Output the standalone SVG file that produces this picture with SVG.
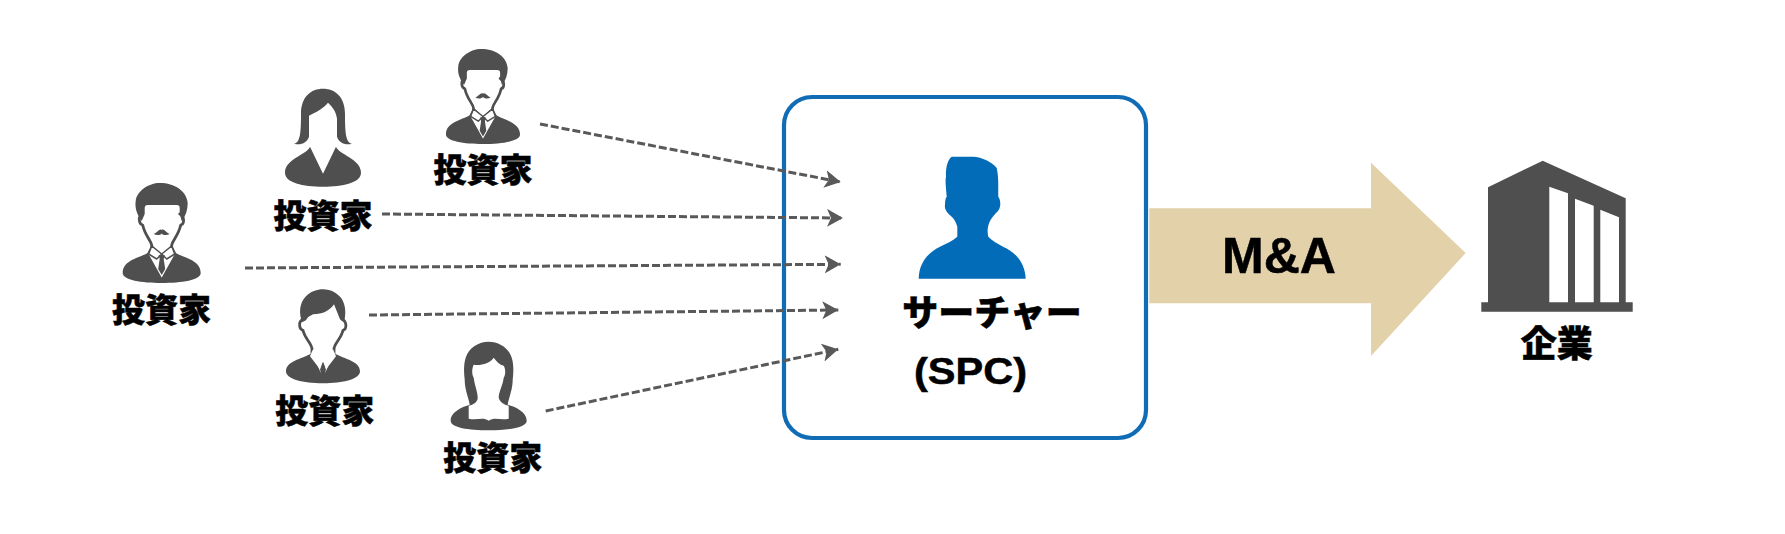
<svg xmlns="http://www.w3.org/2000/svg" width="1785" height="534" viewBox="0 0 1785 534">
<style>
.d{fill:#4f4f4f}
.o{fill:none;stroke:#4f4f4f;stroke-width:2.8;stroke-linejoin:round;stroke-linecap:round}
.w{fill:#fff}
.c{fill:none;stroke:#595959;stroke-width:3;stroke-dasharray:8 3;marker-end:url(#ah)}
.t{font-family:"Noto Sans CJK JP","Liberation Sans",sans-serif;font-weight:900;fill:#000;stroke:#000;stroke-width:.5;text-anchor:middle}
.l{font-size:33px}
.a{font-family:"Liberation Sans",Arial,sans-serif;font-weight:700;fill:#000;stroke:#000;stroke-width:.5;text-anchor:middle}
</style>
<defs>
<marker id="ah" markerUnits="userSpaceOnUse" markerWidth="20" markerHeight="20" refX="16" refY="9" orient="auto">
<path d="M0,0L16,9L0,18L4,9Z" fill="#595959"/>
</marker>
<g id="mustache">
<path class="o" d="M-19,31C-24,33-23,41-19,42C-17,52-11,57-10,62V69M18,31C23,33 23,41 19,42C17,52 11,57 10,62V69"/>
<path class="d" d="M-39,90C-39,76-20,75-11,68L0,96L11,68C20,75 39,76 39,90C39,97 20,100 0,100C-20,100-39,97-39,90Z"/>
<path class="d" d="M-20,38C-25,31-27,25-26,18C-25,8-13,0-2,0C13,0 25,8 26,20C26,27 24,33 20,38L18,31V25Q18,22 15,22H-14Q-17,22-17,25V31Z"/>
<path class="d" d="M-8,51C-5,50-2,45 0,47C2,45 5,50 8,51C5,53 1,52 0,50.500C-1,52-5,53-8,51Z"/>
<path class="w" stroke="#4f4f4f" stroke-width="1.500" stroke-linejoin="round" d="M-10,63L-14,71L0,96L14,71L10,63L0,72Z"/>
<path class="w" stroke="#4f4f4f" stroke-width="1.500" stroke-linejoin="round" d="M-10,63L-13,71L-5,76L0,71L5,76L13,71L10,63L0,71Z"/>
<path class="d" d="M-3,72H3L2,76L3.500,86L0,92L-3.500,86L-2,76Z"/>
</g>
</defs>
<g id="buyer-box">
<rect x="784" y="97" width="362" height="341" rx="28" fill="#fff" stroke="#0f6cb5" stroke-width="4.200"/>
<path d="M951.700,156.700H973C982,157 992,162 996.700,168C999,178 998,188 998.300,196.700C1001,200 1001,208 998,211C995,214 992,217 990,221C987.500,226 987,232 988.300,236.700C992,241 997,243 1003,246.700C1015,252 1025,262 1025.700,278.700H918.700C919,262 929,252 940,246.700C947,243 953,241 957.300,236.700V226.700C956,222 954,219 951.700,216.700C947,213 944,209 945,205C945,201 945.500,198 946.700,196.700C946,188 945,180 946,176.700C945.500,170 947,160 951.700,156.700Z" fill="#026cb8"/>
<text class="t" x="992" y="326" font-size="36">サーチャー</text>
<text class="a" x="970.500" y="384" font-size="36" textLength="113" lengthAdjust="spacingAndGlyphs">(SPC)</text>
</g>
<g id="connectors">
<path class="c" d="M540,124L840.700,182"/>
<path class="c" d="M382,214L843,218"/>
<path class="c" d="M245,268L840.700,264.300"/>
<path class="c" d="M369,315L838.300,310"/>
<path class="c" d="M545.700,411L838.300,349.300"/>
</g>
<g id="investor-1">
<use href="#mustache" transform="translate(161.700,183)"/>
<text class="t l" x="161.500" y="322">投資家</text>
</g>
<g id="investor-2">
<g transform="translate(323,88.700)">
<path class="d" d="M-29,55C-23,54-22,45-22,25C-22,8-12,0 0,0C12,0 22,8 22,25C22,45 23,54 29,55C22,57 16,54 14,48V30C13,22 9,18 5,14C0,20-8,24-14,27V48C-16,54-22,57-29,55Z"/>
<path class="d" d="M-13,58C-16,66-38,70-38,84C-38,94-20,98 0,98C20,98 38,94 38,84C38,70 16,66 13,58L0,85Z"/>
</g>
<text class="t l" x="323" y="228">投資家</text>
</g>
<g id="investor-3">
<use href="#mustache" transform="translate(483,49) scale(.95)"/>
<text class="t l" x="483" y="182">投資家</text>
</g>
<g id="investor-4">
<g transform="translate(323,289.300)">
<path class="o" d="M-20,30C-25,32-24,40-20,41C-18,50-11,54-11,60V66M19,30C24,32 24,40 20,41C18,50 11,54 11,60V66"/>
<path class="d" d="M-37,82C-37,72-22,70-11,64L-2,84L-3,80L0,72L3,80L2,84L11,64C22,70 37,72 37,82C37,90 20,94 0,94C-20,94-37,90-37,82Z"/>
<path class="d" d="M-21,33C-24,24-24,14-17,7C-12,2-6,0 0,0C8,0 15,4 19,10C23,17 23,25 21,33L17,30L11,15C7,21 0,25-10,25C-13,27-15,27-17,31Z"/>
<path class="w" d="M-10,60L-13,67L-3,80L-1,73H1L3,80L13,67L10,60L0,69Z"/>
</g>
<text class="t l" x="324.700" y="423">投資家</text>
</g>
<g id="investor-5">
<g transform="translate(488.700,341.700)">
<path class="d" d="M-19,63C-20,56-24,48-24,38C-25,30-25,22-23,16C-20,6-10,0 0,0C10,0 20,6 23,16C25,22 25,30 24,38C24,48 20,56 19,63C26,65 38,70 38,79C38,86 20,88.500 0,88.500C-20,88.500-38,86-38,79C-38,70-26,65-19,63Z"/>
<path class="w" d="M-15,23C-8,24 1,22 5,16C8,20 11,23 15,24C17,27 17,33 15,36C14,44 10,50 10,56C11,60 15,63 20,64V77C12,79 6,75 0,79C-6,75-12,79-20,77V64C-15,63-11,60-11,56C-11,50-14,44-15,36C-17,33-17,27-15,23Z"/>
</g>
<text class="t l" x="492.700" y="470">投資家</text>
</g>
<g id="ma-arrow">
<path d="M1149.300,208.300H1371V162.700L1465.700,253L1371,356V303.300H1149.300Z" fill="#e3d1a9"/>
<text class="a" x="1279" y="272.700" font-size="50">M&amp;A</text>
</g>
<g id="company">
<path class="d" d="M1488,302.300V187.300L1542.700,160.700L1625.700,198.300V302.300H1632.700V311.700H1481.300V302.300Z"/>
<path class="w" d="M1549.300,186.700L1568,193.300V302.300H1549.300ZM1575,198.700L1593.700,205.700V302.300H1575ZM1600.300,209.700L1619,217.300V302.300H1600.300Z"/>
<text class="t" x="1556.700" y="357" font-size="36">企業</text>
</g>
</svg>
